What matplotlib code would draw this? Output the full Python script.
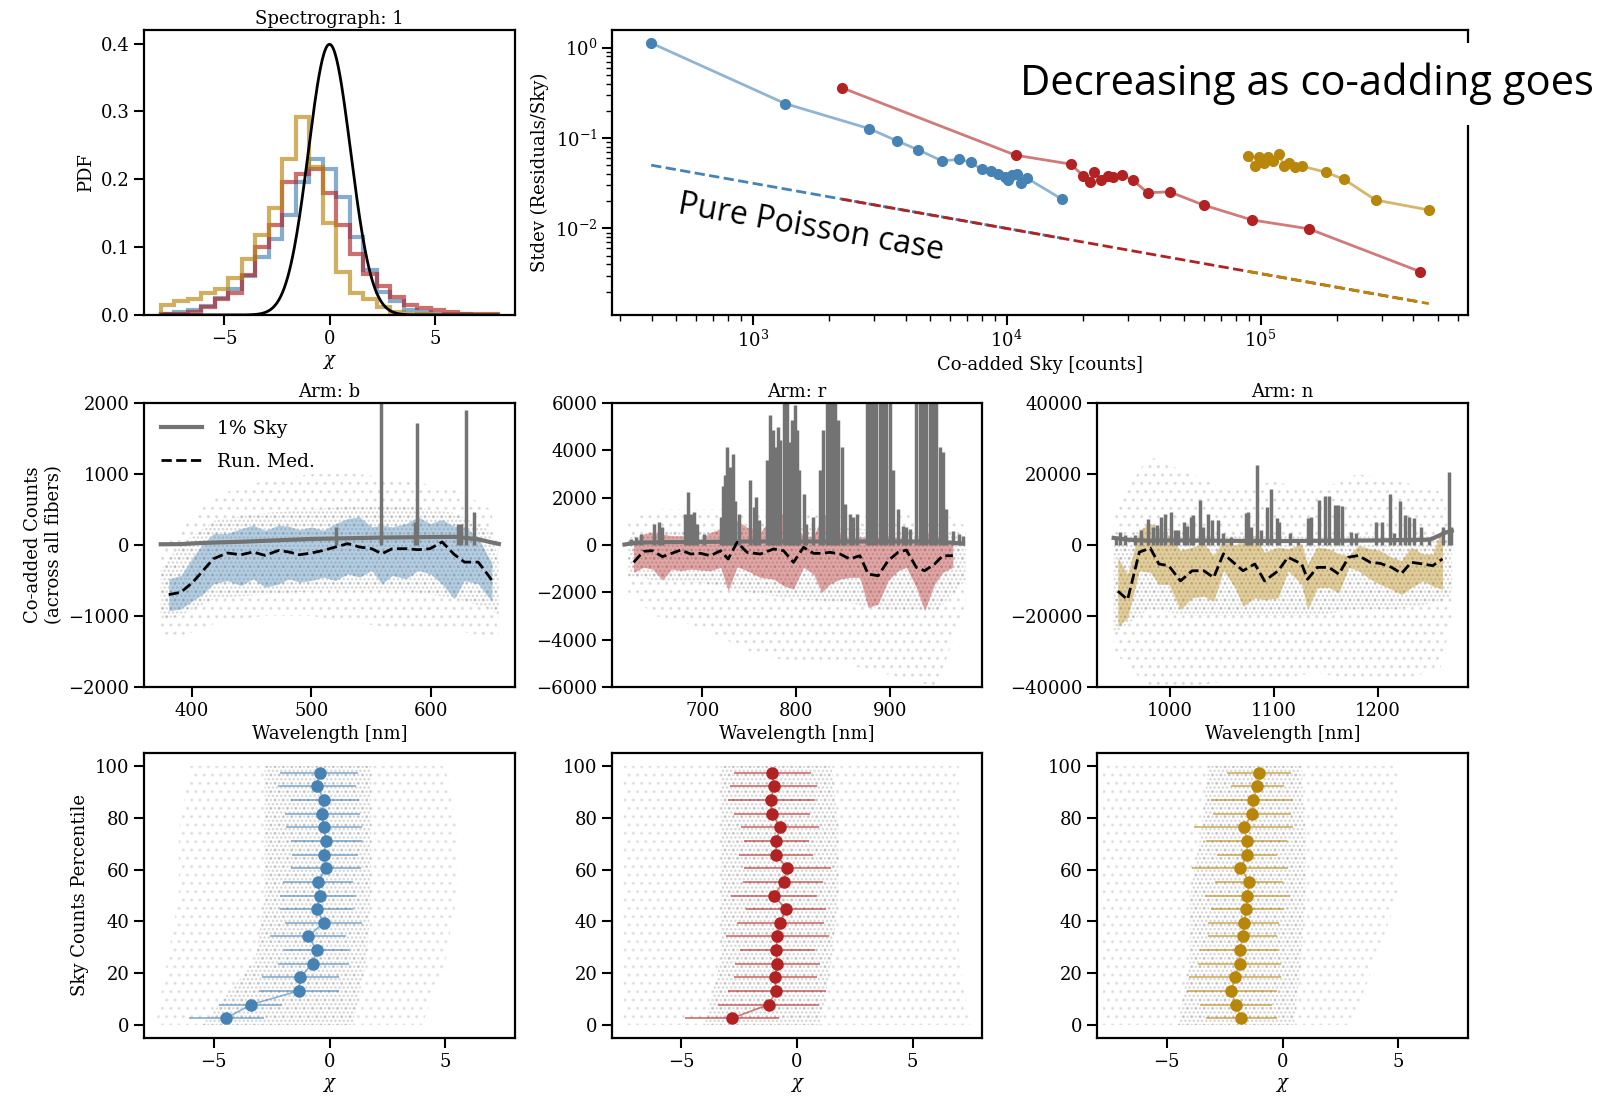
import numpy as np
import matplotlib
matplotlib.use('Agg')
import matplotlib.pyplot as plt
from matplotlib.colors import to_rgba
from matplotlib.patches import Rectangle

# ---------------- DATA ----------------
BLUE, RED, GOLD = '#4682B4', '#B22222', '#B8860B'

# Top-left histogram (25 bins from -8 to 8)
hist_edges_range = (-8.0, 8.0)
hist_blue = [0.002, 0.004, 0.007, 0.014, 0.025, 0.038, 0.058, 0.085, 0.112, 0.147, 0.196, 0.230, 0.215,
             0.174, 0.115, 0.066, 0.034, 0.020, 0.008, 0.004, 0.002, 0.001, 0.001, 0.000, 0.000]
hist_red = [0.001, 0.002, 0.005, 0.012, 0.024, 0.032, 0.059, 0.100, 0.133, 0.196, 0.208, 0.215, 0.180,
            0.132, 0.090, 0.061, 0.043, 0.027, 0.015, 0.010, 0.007, 0.004, 0.002, 0.002, 0.001]
hist_gold = [0.015, 0.020, 0.023, 0.032, 0.039, 0.055, 0.082, 0.118, 0.158, 0.230, 0.292, 0.218, 0.135,
             0.064, 0.032, 0.024, 0.012, 0.005, 0.002, 0.001, 0.0, 0.0, 0.0, 0.0, 0.0]

# Top-right: stdev vs co-added sky
sky_blue = [398, 1345, 2876, 3698, 4486, 5550, 6518, 7222, 7960, 8650, 9230, 9850, 10100, 10500,
            10990, 11400, 12020, 16480]
std_blue = [1.126, 0.240, 0.127, 0.093, 0.074, 0.056, 0.058, 0.054, 0.0449, 0.0434, 0.0398, 0.0372,
            0.0342, 0.0388, 0.0398, 0.0314, 0.036, 0.0211]
sky_red = [2240, 10840, 17900, 20000, 21300, 22000, 23500, 25000, 26200, 28500, 31400, 35900, 43800,
           59700, 92500, 154800, 425000]
std_red = [0.361, 0.0646, 0.0514, 0.0382, 0.0328, 0.0423, 0.0342, 0.0378, 0.0366, 0.0388, 0.0342,
           0.0248, 0.0254, 0.0181, 0.0124, 0.0099, 0.00332]
sky_gold = [89100, 95000, 98700, 103300, 106700, 112300, 118200, 123700, 129400, 136300, 145300,
            180700, 213600, 283800, 460000]
std_gold = [0.063, 0.0493, 0.062, 0.0523, 0.062, 0.056, 0.0663, 0.0489, 0.0523, 0.048, 0.0489,
            0.0419, 0.0348, 0.0206, 0.016]
poisson_blue_x, poisson_blue_y = [398, 16480], [0.0501, 0.00779]
poisson_red_x, poisson_red_y = [2240, 425000], [0.0211, 0.00153]
poisson_gold_x, poisson_gold_y = [89100, 460000], [0.00335, 0.00147]

# Middle row: arm b
b_base_wl = [374, 390, 410, 440, 470, 500, 530, 560, 590, 620, 640, 650, 657]
b_base_val = [10, 12, 30, 45, 65, 85, 95, 105, 110, 115, 80, 40, 15]
b_line_wl = [520.3, 558.0, 586.5, 588.8, 622.4, 625.3, 629.9, 636.3]
b_line_val = [250, 2600, 330, 1720, 300, 300, 1900, 470]
b_band_wl = [380.7, 390.8, 400.9, 409.5, 418.1, 429.6, 441.2, 451.2, 461.3, 472.8, 481.4, 490.1, 500.1,
             510.2, 520.3, 530.4, 540.4, 550.5, 559.1, 567.8, 579.3, 589.4, 599.4, 609.5, 619.6, 628.2,
             639.7, 648.3, 651.2]
b_band_hi = [-477, -430, -170, 19, 161, 161, 231, 279, 208, 279, 264, 217, 255, 208, 302, 373, 397, 255,
             279, 255, 302, 397, 302, 359, 264, 255, 113, -170, -241]
b_band_lo = [-926, -902, -784, -690, -548, -501, -571, -477, -595, -548, -477, -524, -501, -453, -501,
             -406, -453, -359, -548, -430, -477, -359, -406, -548, -760, -501, -548, -737, -784]
b_med = [-699, -666, -524, -359, -194, -113, -137, -99, -146, -76, -99, -137, -113, -76, -28, 19, -28,
         -52, -123, -52, -52, -66, -52, 43, -132, -241, -241, -430, -501]
b_cloud_wl = [374, 390, 420, 460, 500, 540, 580, 620, 650, 657]
b_cloud_out_hi = [-100, 200, 700, 900, 1000, 1000, 900, 800, 500, 0]
b_cloud_out_lo = [-1300, -1300, -1100, -1000, -1000, -1100, -1200, -1200, -1300, -1300]
b_cloud_in_hi = [-350, 0, 350, 450, 500, 550, 550, 450, 200, -200]
b_cloud_in_lo = [-1050, -1000, -750, -700, -650, -650, -650, -750, -900, -1000]

# arm r
r_base_wl = [617, 630, 660, 700, 750, 800, 850, 900, 950, 978]
r_base_val = [20, 100, 120, 130, 150, 150, 150, 150, 150, 60]
r_line_wl = [623.9, 629.2, 634.5, 648.7, 654.0, 657.5, 681.6, 685.1, 687.6, 691.2, 694.7, 701.8, 720.0,
             722.0, 724.1, 726.5, 729.4, 732.9, 735.4, 738.9, 751.3, 754.9, 757.3, 760.2, 769.0, 772.6,
             775.4, 777.9, 780.4, 783.2, 786.7, 790.3, 793.1, 795.6, 798.4, 800.9, 803.7, 808.0, 810.8,
             818.6, 825.7, 829.2, 832.7, 836.3, 839.0, 841.6, 845.1, 848.7, 852.2, 857.5, 861.1, 865.3,
             875.2, 878.8, 882.3, 885.8, 889.4, 892.9, 896.5, 900.0, 903.5, 908.8, 914.2, 917.7, 921.2,
             928.3, 931.9, 935.4, 938.9, 942.5, 946.0, 949.6, 953.1, 956.6, 960.2, 967.3, 974.3, 977.9]
r_line_val = [250, 320, 470, 890, 960, 750, 1310, 2230, 1310, 1380, 890, 470, 1200, 2500, 2940, 4140,
              3300, 3860, 1880, 1310, 2730, 1600, 2020, 1040, 3580, 5480, 4880, 4140, 4990, 4420, 12000,
              12000, 4350, 5270, 5910, 4850, 3150, 2160, 890, 1170, 3150, 4850, 12000, 12000, 12000,
              12000, 5270, 4140, 1740, 1310, 1170, 1310, 12000, 12000, 12000, 12000, 12000, 12000, 12000,
              12000, 3150, 1530, 820, 750, 680, 12000, 12000, 12000, 12000, 12000, 12000, 12000, 4140,
              3930, 1530, 610, 470, 400]
r_band_wl = [626.7, 637.3, 646.9, 657.5, 667.4, 677.0, 687.6, 698.2, 708.8, 719.5, 727.6, 737.2, 747.8,
             761.9, 776.1, 786.7, 797.3, 808.0, 818.6, 827.4, 836.3, 846.9, 857.5, 868.1, 877.0, 887.6,
             898.2, 908.8, 917.7, 928.3, 937.2, 947.8, 956.6, 967.3]
r_band_hi = [40, 466, 537, 466, 395, 395, 353, 254, 537, 678, 819, 1031, 748, 537, 1285, 1313, 890, 395,
             353, 1172, 1384, 466, 254, 353, 325, 325, 395, 325, 254, 184, 537, 395, 325, 42]
r_band_lo = [-1160, -946, -1017, -1483, -1017, -1087, -1017, -1059, -1087, -946, -1934, -918, -1087,
             -1370, -1440, -1723, -1864, -946, -1228, -2005, -1652, -1440, -1370, -1370, -2640, -2499,
             -1511, -1087, -946, -1793, -2782, -1652, -1158, -946]
r_med = [-734, -268, -240, -494, -353, -212, -381, -353, -452, -240, -593, 113, -311, -381, -169, -240,
         -734, -99, -353, -353, -311, -381, -593, -452, -1228, -1299, -664, -311, -212, -946, -1087,
         -805, -452, -452]
r_cloud_wl = [621, 650, 700, 750, 800, 850, 900, 950, 981]
r_cloud_out_hi = [1000, 1500, 1500, 1500, 1500, 1500, 1200, 1500, 800]
r_cloud_out_lo = [-2000, -3000, -3500, -4500, -5000, -5000, -5500, -6000, -2500]
r_cloud_in_hi = [300, 600, 600, 800, 800, 800, 500, 600, 300]
r_cloud_in_lo = [-1300, -1500, -1600, -2000, -2300, -2400, -2800, -2800, -1500]

# arm n
n_base_wl = [946, 960, 980, 1000, 1050, 1100, 1150, 1200, 1250, 1265, 1271]
n_base_val = [2000, 1500, 1200, 1300, 1200, 1100, 1200, 1300, 1500, 3500, 4000]
n_line_wl = [948.1, 951.9, 956.8, 966.9, 972.6, 979.3, 983.8, 987.6, 991.4, 995.1, 1001.5, 1005.3,
             1008.3, 1013.2, 1016.9, 1020.3, 1022.2, 1028.9, 1032.0, 1036.5, 1040.2, 1045.9, 1050.8,
             1059.0, 1073.3, 1075.2, 1077.8, 1083.5, 1087.2, 1092.9, 1097.4, 1103.0, 1104.9, 1115.4,
             1122.9, 1132.3, 1135.3, 1143.6, 1149.2, 1153.0, 1158.6, 1161.3, 1165.0, 1173.7, 1179.3,
             1198.1, 1203.8, 1212.0, 1215.8, 1220.7, 1226.3, 1230.1, 1235.0, 1241.4, 1248.9, 1262.0,
             1268.4, 1270.3]
n_line_val = [2290, 3530, 2770, 2770, 4200, 7260, 5160, 5630, 8020, 8690, 9170, 4200, 4200, 6590, 5350,
              8020, 8500, 12600, 5160, 8690, 7070, 7070, 3250, 2290, 8980, 9170, 5160, 22630, 4200,
              10700, 15660, 7540, 6590, 3250, 1810, 7540, 8020, 12600, 13750, 13750, 11360, 11360,
              10890, 3720, 3250, 6590, 6590, 14230, 3250, 12510, 8500, 8020, 7540, 5160, 2290, 5160,
              20440, 5160]
n_band_wl = [950.0, 959.4, 970.7, 981.2, 989.5, 998.9, 1010.2, 1021.4, 1032.7, 1042.1, 1051.5, 1062.8,
             1070.3, 1081.6, 1091.0, 1104.1, 1113.5, 1126.7, 1132.3, 1141.7, 1153.0, 1162.4, 1171.8,
             1181.2, 1192.5, 1201.9, 1213.2, 1222.6, 1232.0, 1243.2, 1252.6, 1262.0]
n_band_hi = [-3440, -8200, 4200, 6100, 4680, 2770, -1530, -570, 380, -2960, 1340, -100, 1810, 2770,
             -2000, -570, -1050, 380, -5350, -570, -1050, -2480, -2960, -100, -1050, -1530, -3440,
             -4390, -570, -2480, -2480, 5160]
n_band_lo = [-23000, -20600, -7260, -7740, -11080, -11080, -18240, -14900, -14420, -15850, -7260,
             -12030, -17290, -14900, -15380, -14900, -7260, -11080, -18240, -12030, -12030, -13470,
             -6300, -7260, -9650, -11080, -12510, -13940, -12030, -10120, -11560, -12510]
n_med = [-13000, -15400, -2000, -860, -5350, -5830, -10120, -7260, -7260, -9170, -2480, -5350, -7260,
         -5350, -10120, -7260, -3440, -5350, -9650, -6300, -6300, -8210, -3440, -2960, -4870, -5160,
         -6300, -8020, -4870, -5350, -5830, -3920]
n_cloud_wl = [946, 980, 1020, 1060, 1100, 1140, 1180, 1220, 1260, 1271]
n_cloud_out_hi = [10000, 25000, 20000, 15000, 18000, 15000, 20000, 18000, 15000, 5000]
n_cloud_out_lo = [-30000, -40000, -40000, -38000, -38000, -36000, -38000, -38000, -35000, -20000]
n_cloud_in_hi = [0, 6000, 3000, 3000, 3000, 2000, 3000, 2000, 3000, 0]
n_cloud_in_lo = [-25000, -18000, -20000, -20000, -20000, -20000, -18000, -18000, -16000, -14000]

# Bottom row: chi vs sky-count percentile (19 bins)
pct = [97.4, 92.1, 86.8, 81.6, 76.3, 71.1, 65.8, 60.5, 55.3, 50.0, 44.7, 39.5, 34.2, 28.9, 23.7, 18.4,
       13.2, 7.9, 2.6]
chi_blue = [-0.43, -0.55, -0.22, -0.33, -0.25, -0.15, -0.25, -0.15, -0.48, -0.43, -0.55, -0.25, -0.92,
            -0.55, -0.73, -1.27, -1.33, -3.38, -4.47]
chi_blue_lo = [-2.12, -2.22, -1.67, -1.92, -1.86, -1.67, -1.62, -1.65, -2.01, -2.12, -2.12, -1.92, -2.56,
               -1.97, -2.22, -2.91, -3.06, -4.75, -6.07]
chi_blue_hi = [1.24, 1.16, 1.27, 1.31, 1.42, 1.42, 1.21, 1.36, 1.01, 1.16, 1.01, 1.42, 0.72, 0.86, 0.82,
               0.42, 0.42, -2.04, -2.82]
chi_red = [-1.06, -1.00, -1.13, -1.07, -0.74, -0.89, -0.91, -0.42, -0.58, -1.00, -0.48, -0.74, -0.86,
           -0.89, -0.86, -0.96, -0.89, -1.23, -2.82]
chi_red_lo = [-2.73, -2.89, -2.99, -2.73, -2.44, -2.29, -2.51, -2.31, -2.34, -2.87, -2.19, -2.60, -3.09,
              -2.48, -2.66, -2.74, -2.99, -3.43, -4.84]
chi_red_hi = [0.60, 0.86, 0.78, 0.57, 0.93, 0.52, 0.68, 1.47, 1.12, 0.86, 1.25, 1.15, 1.39, 0.78, 1.00,
              0.86, 1.26, 0.97, -0.77]
chi_gold = [-1.00, -1.08, -1.28, -1.31, -1.66, -1.54, -1.52, -1.82, -1.43, -1.52, -1.56, -1.67, -1.70,
            -1.84, -1.84, -2.05, -2.20, -2.02, -1.79]
chi_gold_lo = [-2.41, -2.21, -3.07, -2.98, -3.80, -3.28, -2.82, -3.89, -2.90, -3.34, -3.10, -3.21, -3.20,
               -3.56, -3.64, -4.02, -4.13, -3.56, -3.31]
chi_gold_hi = [0.38, 0.05, 0.46, 0.38, 0.46, 0.21, -0.23, 0.23, 0.02, 0.33, 0.05, -0.15, -0.25, -0.13,
               -0.07, -0.07, -0.25, -0.44, -0.23]
cloud_pct = [0, 25, 50, 75, 100]
blue_cloud_out = ([-7.5, -7.0, -6.5, -6.5, -6.0], [4.0, 5.0, 5.5, 5.5, 5.0])
blue_cloud_in = ([-5.5, -3.2, -2.8, -2.8, -2.8], [1.0, 1.6, 1.8, 1.8, 1.8])
red_cloud_out = ([-7.5, -7.5, -7.5, -7.5, -7.5], [7.5, 7.0, 7.0, 7.0, 7.0])
red_cloud_in = ([-4.0, -3.3, -3.3, -3.3, -3.3], [1.0, 1.5, 1.8, 1.8, 1.5])
gold_cloud_out = ([-7.8, -7.8, -7.8, -7.8, -7.8], [3.0, 4.0, 5.0, 5.0, 5.0])
gold_cloud_in = ([-4.5, -4.0, -4.0, -3.5, -3.2], [0.5, 0.8, 1.0, 1.0, 0.8])

# ---------------- STYLE ----------------
plt.rcParams.update({
    'font.family': ['DejaVu Serif'],
    'mathtext.fontset': 'dejavuserif',
    'font.size': 13,
    'axes.linewidth': 1.6,
    'xtick.major.size': 7, 'ytick.major.size': 7,
    'xtick.major.width': 1.5, 'ytick.major.width': 1.5,
    'xtick.minor.size': 4, 'ytick.minor.size': 4,
    'xtick.minor.width': 1.0, 'ytick.minor.width': 1.0,
    'xtick.labelsize': 13, 'ytick.labelsize': 13,
    'axes.labelsize': 13, 'axes.titlesize': 13,
    'hatch.linewidth': 1.2,
})

W, H = 1614, 1096
fig = plt.figure(figsize=(W / 100, H / 100), dpi=100)


def px(l, t, r, b):
    return [l / W, 1 - b / H, (r - l) / W, (b - t) / H]


cols = [(144, 515), (612, 982), (1097, 1468)]
ax_h = fig.add_axes(px(144, 30, 515, 315))
ax_s = fig.add_axes(px(612, 30, 1468, 315))
mid = [fig.add_axes(px(l, 403, r, 687)) for l, r in cols]
bot = [fig.add_axes(px(l, 753, r, 1038)) for l, r in cols]

# --- histogram
edges = np.linspace(hist_edges_range[0], hist_edges_range[1], len(hist_blue) + 1)
for vals, c in [(hist_blue, BLUE), (hist_red, RED), (hist_gold, GOLD)]:
    ax_h.stairs(vals, edges, color=c, lw=3, alpha=0.65)
gx = np.linspace(-8, 8, 400)
ax_h.plot(gx, np.exp(-gx ** 2 / 2) / np.sqrt(2 * np.pi), color='k', lw=2)
ax_h.set_xlim(-8.8, 8.8)
ax_h.set_ylim(0, 0.42)
ax_h.set_xticks([-5, 0, 5])
ax_h.set_yticks([0, 0.1, 0.2, 0.3, 0.4])
ax_h.set_xlabel(r'$\chi$')
ax_h.set_ylabel('PDF')
ax_h.set_title('Spectrograph: 1', pad=4)

# --- stdev vs sky
for xs, ys, c in [(sky_blue, std_blue, BLUE), (sky_red, std_red, RED), (sky_gold, std_gold, GOLD)]:
    ax_s.plot(xs, ys, '-', color=c, alpha=0.6, lw=2)
    ax_s.plot(xs, ys, 'o', color=c, ms=7)
for xs, ys, c in [(poisson_blue_x, poisson_blue_y, BLUE), (poisson_red_x, poisson_red_y, RED),
                  (poisson_gold_x, poisson_gold_y, GOLD)]:
    ax_s.plot(xs, ys, '--', color=c, lw=2)
ax_s.set_xscale('log')
ax_s.set_yscale('log')
ax_s.set_xlim(279, 656000)
ax_s.set_ylim(0.0011, 1.57)
ax_s.set_xlabel('Co-added Sky [counts]')
ax_s.set_ylabel('Stdev (Residuals/Sky)')
ax_s.text(0.232, 0.305, 'Pure Poisson case', transform=ax_s.transAxes, rotation=-10,
          family=['Open Sans', 'DejaVu Sans'], fontsize=23, ha='center', va='center')

# --- middle row
mid_specs = [
    ('b', b_base_wl, b_base_val, b_line_wl, b_line_val, b_band_wl, b_band_hi, b_band_lo, b_med,
     b_cloud_wl, b_cloud_out_lo, b_cloud_out_hi, b_cloud_in_lo, b_cloud_in_hi, BLUE,
     (360, 670.5), 2000, [400, 500, 600], [-2000, -1000, 0, 1000, 2000]),
    ('r', r_base_wl, r_base_val, r_line_wl, r_line_val, r_band_wl, r_band_hi, r_band_lo, r_med,
     r_cloud_wl, r_cloud_out_lo, r_cloud_out_hi, r_cloud_in_lo, r_cloud_in_hi, RED,
     (603.7, 998.4), 6000, [700, 800, 900], [-6000, -4000, -2000, 0, 2000, 4000, 6000]),
    ('n', n_base_wl, n_base_val, n_line_wl, n_line_val, n_band_wl, n_band_hi, n_band_lo, n_med,
     n_cloud_wl, n_cloud_out_lo, n_cloud_out_hi, n_cloud_in_lo, n_cloud_in_hi, GOLD,
     (930, 1286.5), 40000, [1000, 1100, 1200], [-40000, -20000, 0, 20000, 40000]),
]
SKYC = '0.45'
for ax, spec in zip(mid, mid_specs):
    (arm, bw, bv, lw_, lv, bandw, bhi, blo, med, cw, colo, cohi, cilo, cihi, c, xl, ylim, xt, yt) = spec
    ax.fill_between(cw, colo, cohi, facecolor='none', edgecolor=(0.55, 0.55, 0.55, 0.22),
                    hatch='..', linewidth=0)
    ax.fill_between(cw, cilo, cihi, facecolor='none', edgecolor=(0.45, 0.45, 0.45, 0.28),
                    hatch='....', linewidth=0)
    ax.plot(bw, bv, color=SKYC, lw=3, label='1% Sky')
    ax.vlines(lw_, 0, lv, color=SKYC, lw=2.5)
    ax.plot(bandw, med, '--', color='k', lw=2, label='Run. Med.')
    ax.fill_between(bandw, blo, bhi, color=c, alpha=0.4, linewidth=0)
    ax.set_xlim(*xl)
    ax.set_ylim(-ylim, ylim)
    ax.set_xticks(xt)
    ax.set_yticks(yt)
    ax.set_xlabel('Wavelength [nm]')
    ax.set_title(f'Arm: {arm}', pad=4)
mid[0].set_ylabel('Co-added Counts\n(across all fibers)')
mid[0].legend(loc='upper left', frameon=False, fontsize=13.5, handlelength=2.2, labelspacing=0.8)

# --- bottom row
bot_specs = [(chi_blue, chi_blue_lo, chi_blue_hi, blue_cloud_out, blue_cloud_in, BLUE),
             (chi_red, chi_red_lo, chi_red_hi, red_cloud_out, red_cloud_in, RED),
             (chi_gold, chi_gold_lo, chi_gold_hi, gold_cloud_out, gold_cloud_in, GOLD)]
for ax, (x, lo, hi, cout, cin, c) in zip(bot, bot_specs):
    x = np.asarray(x); lo = np.asarray(lo); hi = np.asarray(hi)
    ax.fill_betweenx(cloud_pct, cout[0], cout[1], facecolor='none',
                     edgecolor=(0.55, 0.55, 0.55, 0.18), hatch='..', linewidth=0)
    ax.fill_betweenx(cloud_pct, cin[0], cin[1], facecolor='none',
                     edgecolor=(0.45, 0.45, 0.45, 0.28), hatch='....', linewidth=0)
    ax.errorbar(x, pct, xerr=[x - lo, hi - x], fmt='none', ecolor=to_rgba(c, 0.6), elinewidth=1.3)
    ax.plot(x, pct, '-', color=c, alpha=0.6, lw=1.2)
    ax.plot(x, pct, 'o', color=c, ms=8)
    ax.set_xlim(-8, 8)
    ax.set_ylim(-5, 105)
    ax.set_xticks([-5, 0, 5])
    ax.set_yticks([0, 20, 40, 60, 80, 100])
    ax.set_xlabel(r'$\chi$')
bot[0].set_ylabel('Sky Counts Percentile')

# --- overlay annotation box
fig.patches.append(Rectangle((1000 / W, 1 - 125 / H), 1 - 1000 / W, 82 / H, transform=fig.transFigure,
                             facecolor='white', edgecolor='none', zorder=10))
fig.text(1307 / W, 1 - 84 / H, 'Decreasing as co-adding goes', family=['Open Sans', 'DejaVu Sans'],
         fontsize=30, ha='center', va='center', zorder=11)

fig.savefig('out.png', dpi=100)
